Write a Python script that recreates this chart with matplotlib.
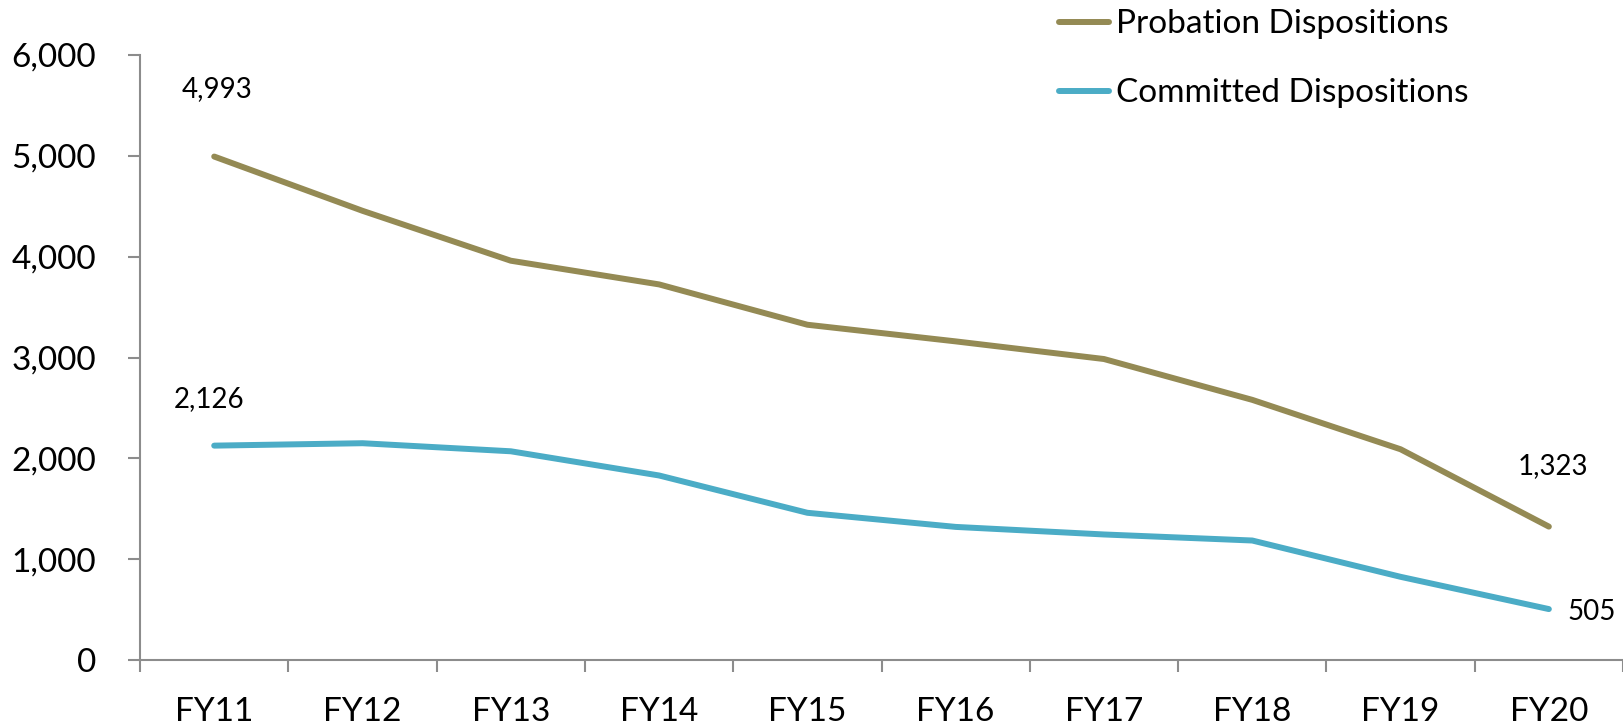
import matplotlib
matplotlib.use("Agg")
import matplotlib.pyplot as plt
from matplotlib.ticker import FuncFormatter, FixedLocator

plt.rcParams['font.family'] = ['Lato', 'DejaVu Sans']

years = ["FY11", "FY12", "FY13", "FY14", "FY15", "FY16", "FY17", "FY18", "FY19", "FY20"]
probation = [4993, 4455, 3960, 3725, 3325, 3160, 2985, 2580, 2090, 1323]
committed = [2126, 2150, 2070, 1830, 1460, 1320, 1245, 1185, 825, 505]

probation_color = "#948A54"
committed_color = "#4BACC6"
axis_color = "#8C8C8C"

fig = plt.figure(figsize=(16.23, 7.24), dpi=100)
ax = fig.add_axes([0.0863, 0.0884, 0.9137, 0.8356])

x = list(range(len(years)))
ax.plot(x, probation, color=probation_color, lw=4.3, solid_capstyle="round",
        solid_joinstyle="round", label="Probation Dispositions")
ax.plot(x, committed, color=committed_color, lw=4.3, solid_capstyle="round",
        solid_joinstyle="round", label="Committed Dispositions")

ax.set_xlim(-0.5, len(years) - 0.5)
ax.set_ylim(0, 6000)
ax.set_yticks(range(0, 6001, 1000))
ax.yaxis.set_major_formatter(FuncFormatter(lambda v, p: f"{int(v):,}"))

ax.set_xticks(x)
ax.set_xticklabels(years)
ax.xaxis.set_minor_locator(FixedLocator([i - 0.5 for i in range(len(years) + 1)]))
ax.tick_params(axis="x", which="major", length=0, pad=26.5, labelsize=24)
ax.tick_params(axis="x", which="minor", length=8.6, width=1.5, color=axis_color, direction="out")
ax.tick_params(axis="y", length=8.6, width=1.5, color=axis_color, pad=23, labelsize=24)

for side in ("top", "right"):
    ax.spines[side].set_visible(False)
for side in ("left", "bottom"):
    ax.spines[side].set_color(axis_color)
    ax.spines[side].set_linewidth(1.5)

# end-point value labels
lab = dict(textcoords="offset points", ha="center", va="baseline", fontsize=20)
ax.annotate(f"{probation[0]:,}", (x[0], probation[0]), xytext=(2, 42.8), **lab)
ax.annotate(f"{committed[0]:,}", (x[0], committed[0]), xytext=(-3.6, 27.8), **lab)
ax.annotate(f"{probation[-1]:,}", (x[-1], probation[-1]), xytext=(3, 37.9), **lab)
ax.annotate(f"{committed[-1]:,}", (x[-1], committed[-1]), xytext=(13.7, -7.9),
            textcoords="offset points", ha="left", va="baseline", fontsize=20)

leg = fig.legend(loc="upper left", bbox_to_anchor=(0.6525, 0.987), frameon=False,
                 fontsize=24, handlelength=1.5, handletextpad=0.2, labelspacing=1.17,
                 borderpad=0, borderaxespad=0)

fig.savefig("out.png", dpi=100)
